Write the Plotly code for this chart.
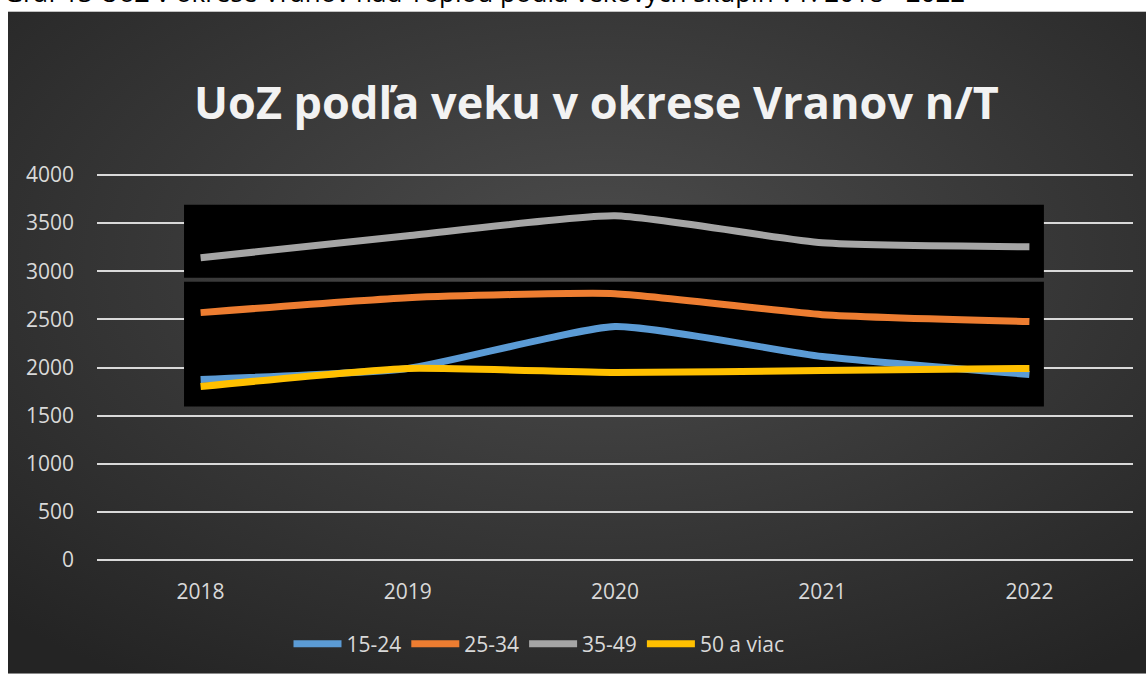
import base64
import plotly.graph_objects as go

# data
years = ["2018", "2019", "2020", "2021", "2022"]
age_15_24 = [1876, 1990, 2425, 2114, 1927]
age_25_34 = [2570, 2725, 2767, 2549, 2477]
age_35_49 = [3140, 3368, 3575, 3295, 3254]
age_50_plus = [1803, 1990, 1948, 1969, 1990]

series_names = ["15-24", "25-34", "35-49", "50 a viac"]
series_values = [age_15_24, age_25_34, age_35_49, age_50_plus]
series_colors = ["#5b9bd5", "#ed7d31", "#a5a5a5", "#ffc000"]

title_text = "UoZ podľa veku v okrese Vranov n/T"
caption_text = "Graf 13 UoZ v okrese Vranov nad Topľou podľa vekových skupín v r. 2018 - 2022"

FONT = "Open Sans"

# radial gradient background of the chart area (Excel style)
svg = """<svg xmlns='http://www.w3.org/2000/svg' width='1138' height='664' viewBox='0 0 1138 664'>
<defs><radialGradient id='g' cx='52%' cy='38%' r='75%'>
<stop offset='0' stop-color='#4c4c4c'/><stop offset='1' stop-color='#242424'/>
</radialGradient></defs>
<rect width='1138' height='664' fill='url(#g)'/></svg>"""
bg_src = "data:image/svg+xml;base64," + base64.b64encode(svg.encode()).decode()

fig = go.Figure()

for name, vals, col in zip(series_names, series_values, series_colors):
    fig.add_trace(go.Scatter(
        x=years,
        y=vals,
        name=name,
        mode='lines',
        line=dict(color=col, width=7, shape='spline', smoothing=0.5),
    ))

# margins so the plot area sits where it does in the reference
# (y range is padded by 20 units ~ 2px each side so 0 / 4000 gridlines show)
L, R, T, B = 97, 13, 173, 112
W, H = 1146, 675
pw, ph = W - L - R, H - T - B
y0_px = 561  # pixel row of the value 0

fig.add_layout_image(
    source=bg_src,
    xref='paper', yref='paper',
    x=(8 - L) / pw, y=1 + (T - 11) / ph,
    sizex=(W - 8) / pw, sizey=(H - 11) / ph,
    xanchor='left', yanchor='top',
    sizing='stretch', layer='below',
)

# the two black panels behind the lines
fig.add_shape(type='rect', xref='x', yref='y', x0=-0.08, x1=4.07, y0=2933, y1=3689,
              fillcolor='black', line_width=0, layer='between')
fig.add_shape(type='rect', xref='x', yref='y', x0=-0.08, x1=4.07, y0=1596, y1=2891,
              fillcolor='black', line_width=0, layer='between')

fig.add_annotation(
    text=title_text, xref='paper', yref='paper',
    x=(596 - L) / pw, y=1 + (T - 101) / ph,
    xanchor='center', yanchor='middle', showarrow=False,
    font=dict(family=FONT, size=45, color='#f2f2f2', weight='bold'),
)

# caption above the chart, cut off by the page edge as in the reference
fig.add_annotation(
    text=caption_text, xref='paper', yref='paper',
    x=(2 - L) / pw, y=1 + (T - 12) / ph,
    xanchor='left', yanchor='bottom', showarrow=False,
    font=dict(family=FONT, size=26, color='black'),
)

fig.update_layout(
    width=W, height=H,
    margin=dict(l=L, r=R, t=T, b=B),
    paper_bgcolor='white',
    plot_bgcolor='rgba(0,0,0,0)',
    font=dict(family=FONT, size=21, color='#d9d9d9'),
    showlegend=True,
    legend=dict(
        orientation='h',
        x=(539 - L) / pw, xanchor='center',
        y=-(644 - (H - B)) / ph, yanchor='middle',
        font=dict(family=FONT, size=21, color='#d9d9d9'),
        itemwidth=48,
        bgcolor='rgba(0,0,0,0)',
    ),
    xaxis=dict(
        type='category',
        range=[-0.5, 4.5],
        showgrid=False,
        showline=False,
        zeroline=False,
        ticks='',
        ticklabelstandoff=15,
        tickfont=dict(color='#d9d9d9', size=21),
    ),
    yaxis=dict(
        range=[-20, 4020],
        tickvals=[0, 500, 1000, 1500, 2000, 2500, 3000, 3500, 4000],
        showgrid=True,
        gridcolor='#d9d9d9',
        gridwidth=2,
        zeroline=False,
        showline=False,
        ticks='',
        ticklabelstandoff=22,
        tickfont=dict(color='#d9d9d9', size=21),
    ),
)

# the page has no body margin, so the figure starts at the window corner
fig.write_html("out.html", config={'displayModeBar': False},
               post_script="document.body.style.margin='0';")
